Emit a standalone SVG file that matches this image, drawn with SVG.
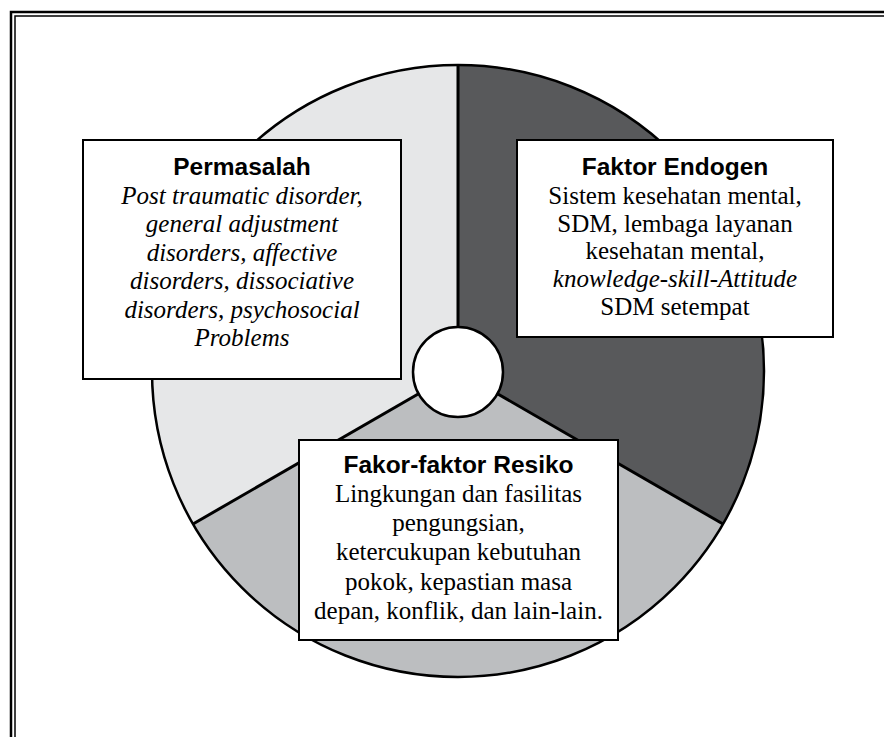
<svg xmlns="http://www.w3.org/2000/svg" width="884" height="737" viewBox="0 0 884 737">
<style>
.title{font-family:"Liberation Sans",Arial,sans-serif;font-weight:bold;font-size:24.5px;fill:#000;text-anchor:middle}
.body{font-family:"Liberation Serif","Times New Roman",serif;font-size:25px;fill:#000;text-anchor:middle}
.it{font-style:italic}
.box{fill:#fff;stroke:#000;stroke-width:2}
.div{stroke:#000;stroke-width:3;fill:none}
</style>
<rect x="0" y="0" width="884" height="737" fill="#fff"/>
<g id="frame" fill="none" stroke="#000">
<rect x="11" y="12" width="1000" height="1000" stroke-width="2.5"/>
<rect x="15" y="16" width="1000" height="1000" stroke-width="1.5"/>
</g>
<g id="wheel">
<path d="M458,371 L458,65 A306,306 0 0 0 193,524 Z" fill="#e6e7e8"/>
<path d="M458,371 L458,65 A306,306 0 0 1 723,524 Z" fill="#58595b"/>
<path d="M458,371 L723,524 A306,306 0 0 1 193,524 Z" fill="#bcbec0"/>
<circle cx="458" cy="371" r="306" fill="none" stroke="#000" stroke-width="2.5"/>
</g>
<g id="connectors">
<line class="div" x1="458" y1="371" x2="458" y2="65"/>
<line class="div" x1="458" y1="371" x2="723" y2="524"/>
<line class="div" x1="458" y1="371" x2="193" y2="524"/>
</g>
<g id="hub">
<circle cx="458" cy="372" r="45" fill="#fff" stroke="#000" stroke-width="2.5"/>
</g>
<g id="permasalah">
<rect class="box" x="83" y="140" width="318" height="239"/>
<text class="title" x="242" y="175">Permasalah</text>
<text class="body it" x="242" y="203.5">Post traumatic disorder,</text>
<text class="body it" x="242" y="232">general adjustment</text>
<text class="body it" x="242" y="260.5">disorders, affective</text>
<text class="body it" x="242" y="289">disorders, dissociative</text>
<text class="body it" x="242" y="317.5">disorders, psychosocial</text>
<text class="body it" x="242" y="346">Problems</text>
</g>
<g id="faktor-endogen">
<rect class="box" x="517" y="140" width="316" height="197"/>
<text class="title" x="675" y="175">Faktor Endogen</text>
<text class="body" x="675" y="203.5">Sistem kesehatan mental,</text>
<text class="body" x="675" y="231.5">SDM, lembaga layanan</text>
<text class="body" x="675" y="259">kesehatan mental,</text>
<text class="body it" x="675" y="287">knowledge-skill-Attitude</text>
<text class="body" x="675" y="314.5">SDM setempat</text>
</g>
<g id="faktor-resiko">
<rect class="box" x="299" y="440" width="319" height="200"/>
<text class="title" x="458.5" y="473">Fakor-faktor Resiko</text>
<text class="body" x="458.5" y="502">Lingkungan dan fasilitas</text>
<text class="body" x="458.5" y="531">pengungsian,</text>
<text class="body" x="458.5" y="560">ketercukupan kebutuhan</text>
<text class="body" x="458.5" y="590">pokok, kepastian masa</text>
<text class="body" x="458.5" y="619">depan, konflik, dan lain-lain.</text>
</g>
</svg>
